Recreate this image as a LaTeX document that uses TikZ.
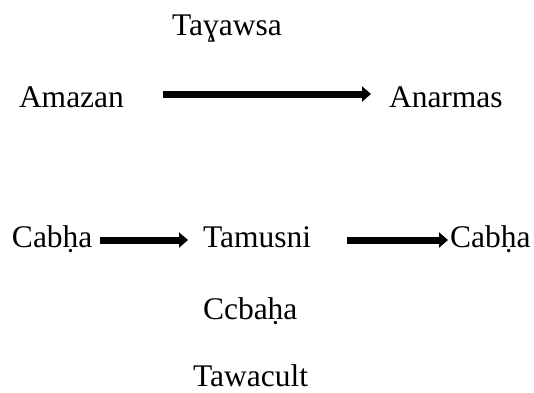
\documentclass[tikz,border=0pt]{standalone}
\usepackage{fontspec}
\newfontfamily\timesfont{Liberation Serif}
\usetikzlibrary{arrows.meta}
\begin{document}
\begin{tikzpicture}[x=1pt,y=-1pt,
  lbl/.style={anchor=base west,inner sep=0pt,outer sep=0pt,font=\timesfont\fontsize{31.5}{37}\selectfont},
  bigarrow/.style={line width=7pt,-{Triangle[length=9pt,width=15pt]}}]
\useasboundingbox (0,0) rectangle (534,392);
\node[lbl] (tay) at (172,35) {Taɣawsa};
\node[lbl] (ama) at (19,107) {Amazan};
\node[lbl] (ana) at (389,107) {Anarmas};
\node[lbl] (cab1) at (12,247) {Cabḥa};
\node[lbl] (tam) at (203,247) {Tamusni};
\node[lbl] (cab2) at (450,247) {Cabḥa};
\node[lbl] (ccb) at (203,319) {Ccbaḥa};
\node[lbl] (taw) at (193,386) {Tawacult};
\coordinate (a1s) at (163,94);
\coordinate (a1e) at (371,94);
\coordinate (a2s) at (100,240);
\coordinate (a2e) at (188,240);
\coordinate (a3s) at (347,240);
\coordinate (a3e) at (448,240);
\draw[bigarrow] (a1s) -- (a1e);
\draw[bigarrow] (a2s) -- (a2e);
\draw[bigarrow] (a3s) -- (a3e);
\end{tikzpicture}
\end{document}
